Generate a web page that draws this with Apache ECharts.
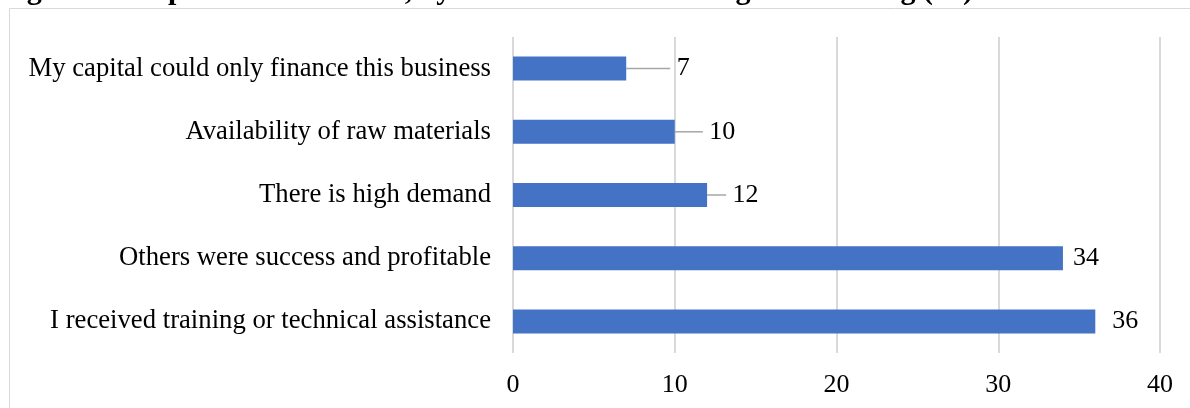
<!DOCTYPE html>
<html>
<head>
<meta charset="utf-8">
<script src="https://cdn.jsdelivr.net/npm/echarts@6/dist/echarts.min.js"></script>
<style>
  html, body { margin: 0; padding: 0; background: #fff; }
  #chart { width: 1190px; height: 408px; }
</style>
</head>
<body>
<div id="chart"></div>
<script>
// Motivation for starting fish farming, share of farmers (%)
const categories = [
  'I received training or technical assistance',
  'Others were success and profitable',
  'There is high demand',
  'Availability of raw materials',
  'My capital could only finance this business'
];
const values = [36, 34, 12, 10, 7];
const xTicks = [0, 10, 20, 30, 40];
const titleText = 'Figure 2. Proportion of farmers, by motivation for starting fish farming (%)';

// Short bars get their label pushed further out, joined by a guide line
const labelShift = { 0: 7, 2: 9, 3: 18, 4: 34 };
const withGuide = { 2: true, 3: true, 4: true };

const FONT = '"Liberation Serif", "Times New Roman", serif';
const chart = echarts.init(document.getElementById('chart'), null, { renderer: 'canvas' });

const barData = values.map(function (v, i) {
  return { value: v, labelLine: { show: !!withGuide[i] } };
});

chart.setOption({
  animation: false,
  graphic: [
    {
      type: 'rect',
      shape: { x: 9.5, y: 8.5, width: 1300, height: 500 },
      style: { fill: 'none', stroke: '#d9d9d9', lineWidth: 1 },
      silent: true
    },
    {
      type: 'text',
      left: 0,
      top: -24,
      style: { text: titleText, font: 'bold 30px ' + FONT, fill: '#000' },
      silent: true
    }
  ],
  grid: { left: 513, right: 30, top: 37, bottom: 55 },
  xAxis: {
    type: 'value',
    min: xTicks[0],
    max: xTicks[xTicks.length - 1],
    interval: 10,
    axisLine: { show: false },
    axisTick: { show: false },
    splitLine: { show: true, lineStyle: { color: '#d9d9d9', width: 2 } },
    axisLabel: { color: '#000', fontFamily: FONT, fontSize: 26, margin: 19 }
  },
  yAxis: {
    type: 'category',
    data: categories,
    axisLine: { show: false },
    axisTick: { show: false },
    axisLabel: { color: '#000', fontFamily: FONT, fontSize: 26.7, margin: 22 }
  },
  series: [{
    type: 'bar',
    data: barData,
    barWidth: '38%',
    itemStyle: { color: '#4472c4' },
    label: {
      show: true,
      position: 'right',
      distance: 10,
      color: '#000',
      fontFamily: FONT,
      fontSize: 26,
      // a leading space keeps the guide line clear of the digits
      formatter: function (p) {
        return (withGuide[p.dataIndex] ? ' ' : '') + p.value;
      }
    },
    labelLine: { show: true, lineStyle: { color: '#a6a6a6', width: 1.5 } },
    labelLayout: function (p) {
      const dx = labelShift[p.dataIndex];
      return dx ? { dx: dx } : {};
    }
  }]
});
</script>
</body>
</html>
